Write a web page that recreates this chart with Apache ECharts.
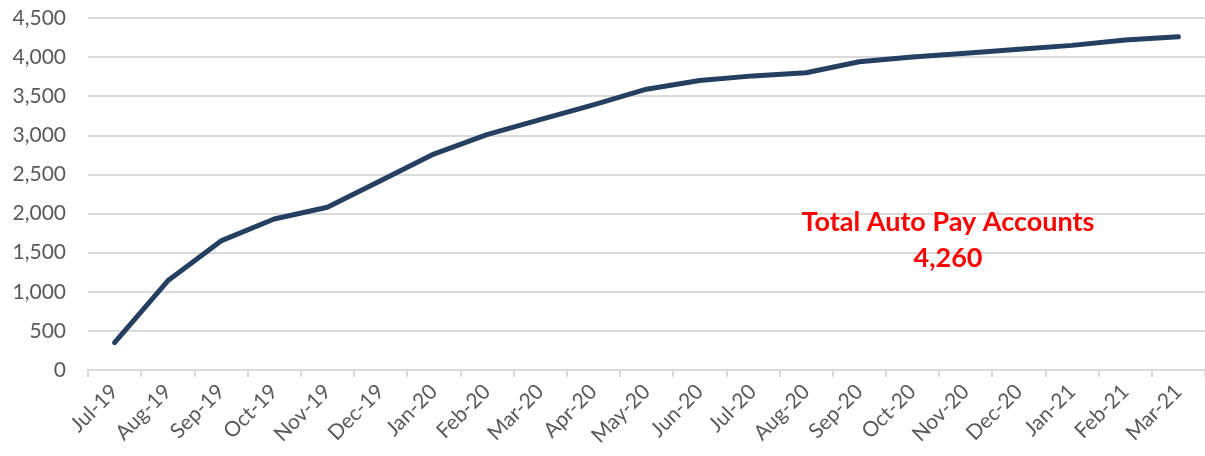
<!DOCTYPE html>
<html>
<head>
<meta charset="utf-8">
<script src="https://cdn.jsdelivr.net/npm/echarts@6/dist/echarts.min.js"></script>
<style>
html,body{margin:0;padding:0;background:#fff;}
#chart{width:1205px;height:456px;}
</style>
</head>
<body>
<div id="chart"></div>
<script>
const categories = ['Jul-19','Aug-19','Sep-19','Oct-19','Nov-19','Dec-19','Jan-20','Feb-20','Mar-20','Apr-20','May-20','Jun-20','Jul-20','Aug-20','Sep-20','Oct-20','Nov-20','Dec-20','Jan-21','Feb-21','Mar-21'];
const autoPayAccounts = [350,1140,1650,1930,2080,2420,2760,3010,3200,3390,3590,3700,3760,3800,3940,4000,4050,4100,4150,4220,4260];
const yTicks = {min: 0, max: 4500, interval: 500};
const annotationTitle = 'Total Auto Pay Accounts';

const fmt = v => v.toLocaleString('en-US');
const chart = echarts.init(document.getElementById('chart'), null, {renderer: 'canvas'});
const lastVal = autoPayAccounts[autoPayAccounts.length - 1];

chart.setOption({
  animation: false,
  backgroundColor: '#ffffff',
  grid: {left: 88, right: -7, top: 18, bottom: 86},
  xAxis: {
    type: 'category',
    data: categories,
    boundaryGap: true,
    axisLine: {show: true, lineStyle: {color: '#d9d9d9', width: 2}},
    axisTick: {show: true, length: 7, lineStyle: {color: '#d9d9d9', width: 2}},
    axisLabel: {rotate: 45, interval: 0, margin: 18, color: '#595959', fontFamily: 'Lato', fontSize: 21}
  },
  yAxis: {
    type: 'value',
    min: yTicks.min, max: yTicks.max, interval: yTicks.interval,
    axisLine: {show: false},
    axisTick: {show: false},
    splitLine: {lineStyle: {color: '#d9d9d9', width: 2}},
    axisLabel: {margin: 22, color: '#595959', fontFamily: 'Lato', fontSize: 21, formatter: v => fmt(v)}
  },
  series: [{
    type: 'line',
    data: autoPayAccounts,
    symbol: 'none',
    lineStyle: {color: '#243f60', width: 5, cap: 'round', join: 'round'}
  }],
  graphic: [{
    type: 'text',
    x: 948, y: 204,
    z: 100,
    style: {
      text: annotationTitle + '\n' + fmt(lastVal),
      fill: '#ff0000',
      font: 'bold 27px Lato',
      textAlign: 'center',
      textVerticalAlign: 'top',
      lineHeight: 36
    }
  }]
});
</script>
</body>
</html>
